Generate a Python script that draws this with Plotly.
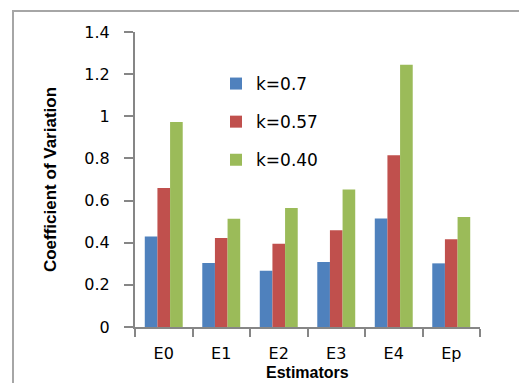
import plotly.graph_objects as go

# Coefficient of variation for each estimator under three values of k
estimators = ["E0", "E1", "E2", "E3", "E4", "Ep"]
cv_k070 = [0.43, 0.304, 0.267, 0.308, 0.515, 0.302]
cv_k057 = [0.66, 0.422, 0.395, 0.459, 0.815, 0.416]
cv_k040 = [0.973, 0.514, 0.565, 0.652, 1.245, 0.522]
series_names = ["k=0.7", "k=0.57", "k=0.40"]
series_colors = ["#4F81BD", "#C0504D", "#9BBB59"]
y_ticks = [0, 0.2, 0.4, 0.6, 0.8, 1, 1.2, 1.4]
y_tick_labels = ["0", "0.2", "0.4", "0.6", "0.8", "1", "1.2", "1.4"]

W, H = 519, 383
L, R, T, B = 135, 39, 32, 56
plot_w, plot_h = W - L - R, H - T - B

fig = go.Figure()
for i, (name, vals, col) in enumerate(zip(series_names, [cv_k070, cv_k057, cv_k040], series_colors)):
    fig.add_trace(go.Bar(
        x=estimators, y=vals, name=name, legendgroup=f"g{i}",
        marker=dict(color=col, line=dict(width=0)),
    ))

axis_col = "#868686"
tick_font = dict(family="DejaVu Sans", size=16, color="#000000")

fig.update_layout(
    width=W, height=H,
    margin=dict(l=L, r=R, t=T, b=B, pad=0, autoexpand=False),
    paper_bgcolor="white", plot_bgcolor="white",
    barmode="group", bargap=0.34, bargroupgap=0,
    showlegend=True,
    legend=dict(
        x=(216 - L) / plot_w, y=(H - B - 66) / plot_h,
        xanchor="left", yanchor="top",
        font=dict(family="DejaVu Sans", size=17, color="#000000"),
        bgcolor="rgba(0,0,0,0)", tracegroupgap=13,
        itemwidth=30,
    ),
    xaxis=dict(
        automargin=False,
        showline=True, linecolor=axis_col, linewidth=2,
        ticks="outside", tickson="boundaries", ticklen=8, tickwidth=2, tickcolor=axis_col,
        tickfont=tick_font, ticklabelstandoff=11,
        showgrid=False, zeroline=False,
    ),
    yaxis=dict(
        automargin=False,
        range=[0, 1.4], tickvals=y_ticks, ticktext=y_tick_labels,
        showline=True, linecolor=axis_col, linewidth=2,
        ticks="outside", ticklen=9, tickwidth=2, tickcolor=axis_col,
        tickfont=tick_font, ticklabelstandoff=11,
        showgrid=False, zeroline=False,
        title=dict(text="<b>Coefficient of Variation</b>", font=dict(family="Liberation Sans", size=17, color="#000000"), standoff=23),
    ),
)

# x-axis title sits right under the category labels, at the bottom edge
fig.add_annotation(
    text="<b>Estimators</b>", xref="paper", yref="paper",
    x=0.5, y=-(H - 1 - (H - B)) / plot_h, xanchor="center", yanchor="bottom",
    showarrow=False, borderpad=0,
    font=dict(family="Liberation Sans", size=16, color="#000000"),
)

# Chart-area frame (top and left edges visible, the rest runs off the page)
fig.add_shape(
    type="rect", xref="paper", yref="paper", layer="above",
    x0=(13 - L) / plot_w, x1=(W + 20 - L) / plot_w,
    y0=(H - B - (H + 20)) / plot_h, y1=(H - B - 11) / plot_h,
    line=dict(color="#A6A6A6", width=2), fillcolor="rgba(0,0,0,0)",
)

fig.write_html("out.html")
